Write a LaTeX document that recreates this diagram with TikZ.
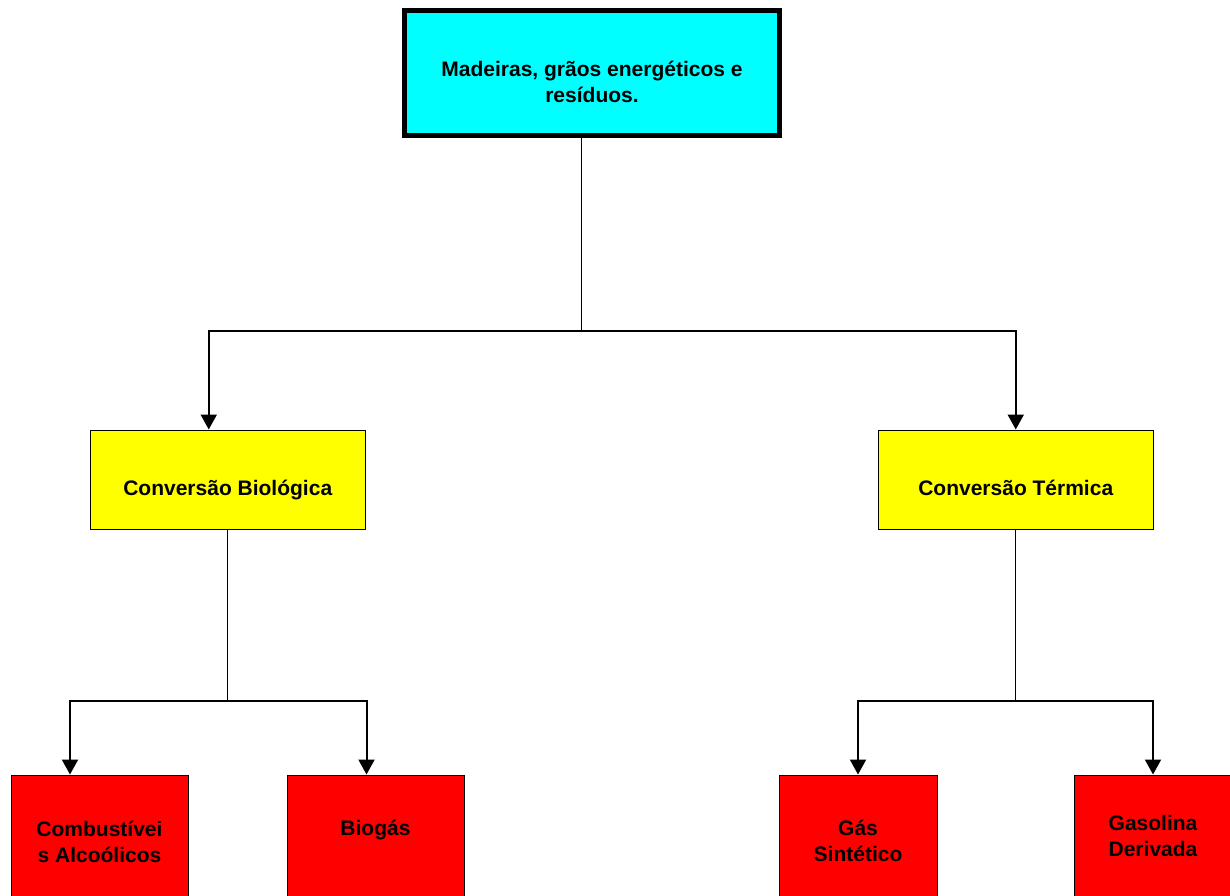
\documentclass[tikz,border=0pt]{standalone}
\usepackage{fontspec}
\setmainfont{Liberation Sans}
\usetikzlibrary{arrows.meta}

\definecolor{fontecyan}{RGB}{0,255,255}
\definecolor{convyellow}{RGB}{255,255,0}
\definecolor{prodred}{RGB}{255,0,0}

\tikzset{
  txt/.style={font=\bfseries\fontsize{21}{26}\selectfont, align=center, inner sep=0pt},
  fonte/.style={draw, line width=5pt, fill=fontecyan, minimum width=375pt, minimum height=125pt, inner sep=0pt},
  conv/.style={draw, line width=1pt, fill=convyellow, minimum width=275pt, minimum height=99pt, inner sep=0pt},
  prod/.style={draw, line width=1pt, fill=prodred, minimum height=140pt, inner sep=0pt},
  liga/.style={line width=1.1pt},
  seta/.style={line width=2pt, -{Triangle[width=16pt,length=15pt]}}
}

\begin{document}
\begin{tikzpicture}[x=1pt,y=-1pt]
		  \useasboundingbox (0,0) rectangle (1230,895);
		  \clip (0,0) rectangle (1230,895);
		  \fill[white] (0,0) rectangle (1230,895);
		  % materia prima
		  \node[fonte, label={[txt,yshift=-9pt]center:{Madeiras, grãos energéticos e\\resíduos.}}] (fonte) at (592,73) {};
		  % conversoes
		  \node[conv, label={[txt,yshift=-10.5pt]center:Conversão Biológica}] (bio) at (227.75,479.5) {};
		  \node[conv, label={[txt,yshift=-8pt]center:Conversão Térmica}] (term) at (1015.75,479.5) {};
		  % produtos
		  \node[prod, minimum width=177pt, label={[txt,yshift=3.5pt]center:{Combustívei\\s Alcoólicos}}] (alc) at (99.5,845) {};
		  \node[prod, minimum width=177pt, label={[txt,yshift=14.5pt]center:Biogás}] (biogas) at (375.5,845) {};
		  \node[prod, minimum width=158pt, label={[txt,yshift=4pt]center:{Gás\\Sintético}}] (gas) at (858,845) {};
		  \node[prod, minimum width=158pt, label={[txt,yshift=9pt]center:{Gasolina\\Derivada}}] (gasol) at (1153,845) {};
		  % ligacoes
		  \coordinate (j0) at (581.5,331);
		  \coordinate (j1) at (227.75,701);
		  \coordinate (j2) at (1015.75,701);
		  \draw[liga] (j0 |- fonte.south) -- (j0);
		  \draw[seta] (j0) -| ([xshift=-19pt]bio.north);
		  \draw[seta] (j0) -| (term.north);
		  \draw[liga] (bio.south) -- (j1);
		  \draw[seta] (j1) -| ([xshift=-29.5pt]alc.north);
		  \draw[seta] (j1) -| ([xshift=-9pt]biogas.north);
		  \draw[liga] (term.south) -- (j2);
		  \draw[seta] (j2) -| (gas.north);
		  \draw[seta] (j2) -| (gasol.north);
		\end{tikzpicture}
\end{document}
